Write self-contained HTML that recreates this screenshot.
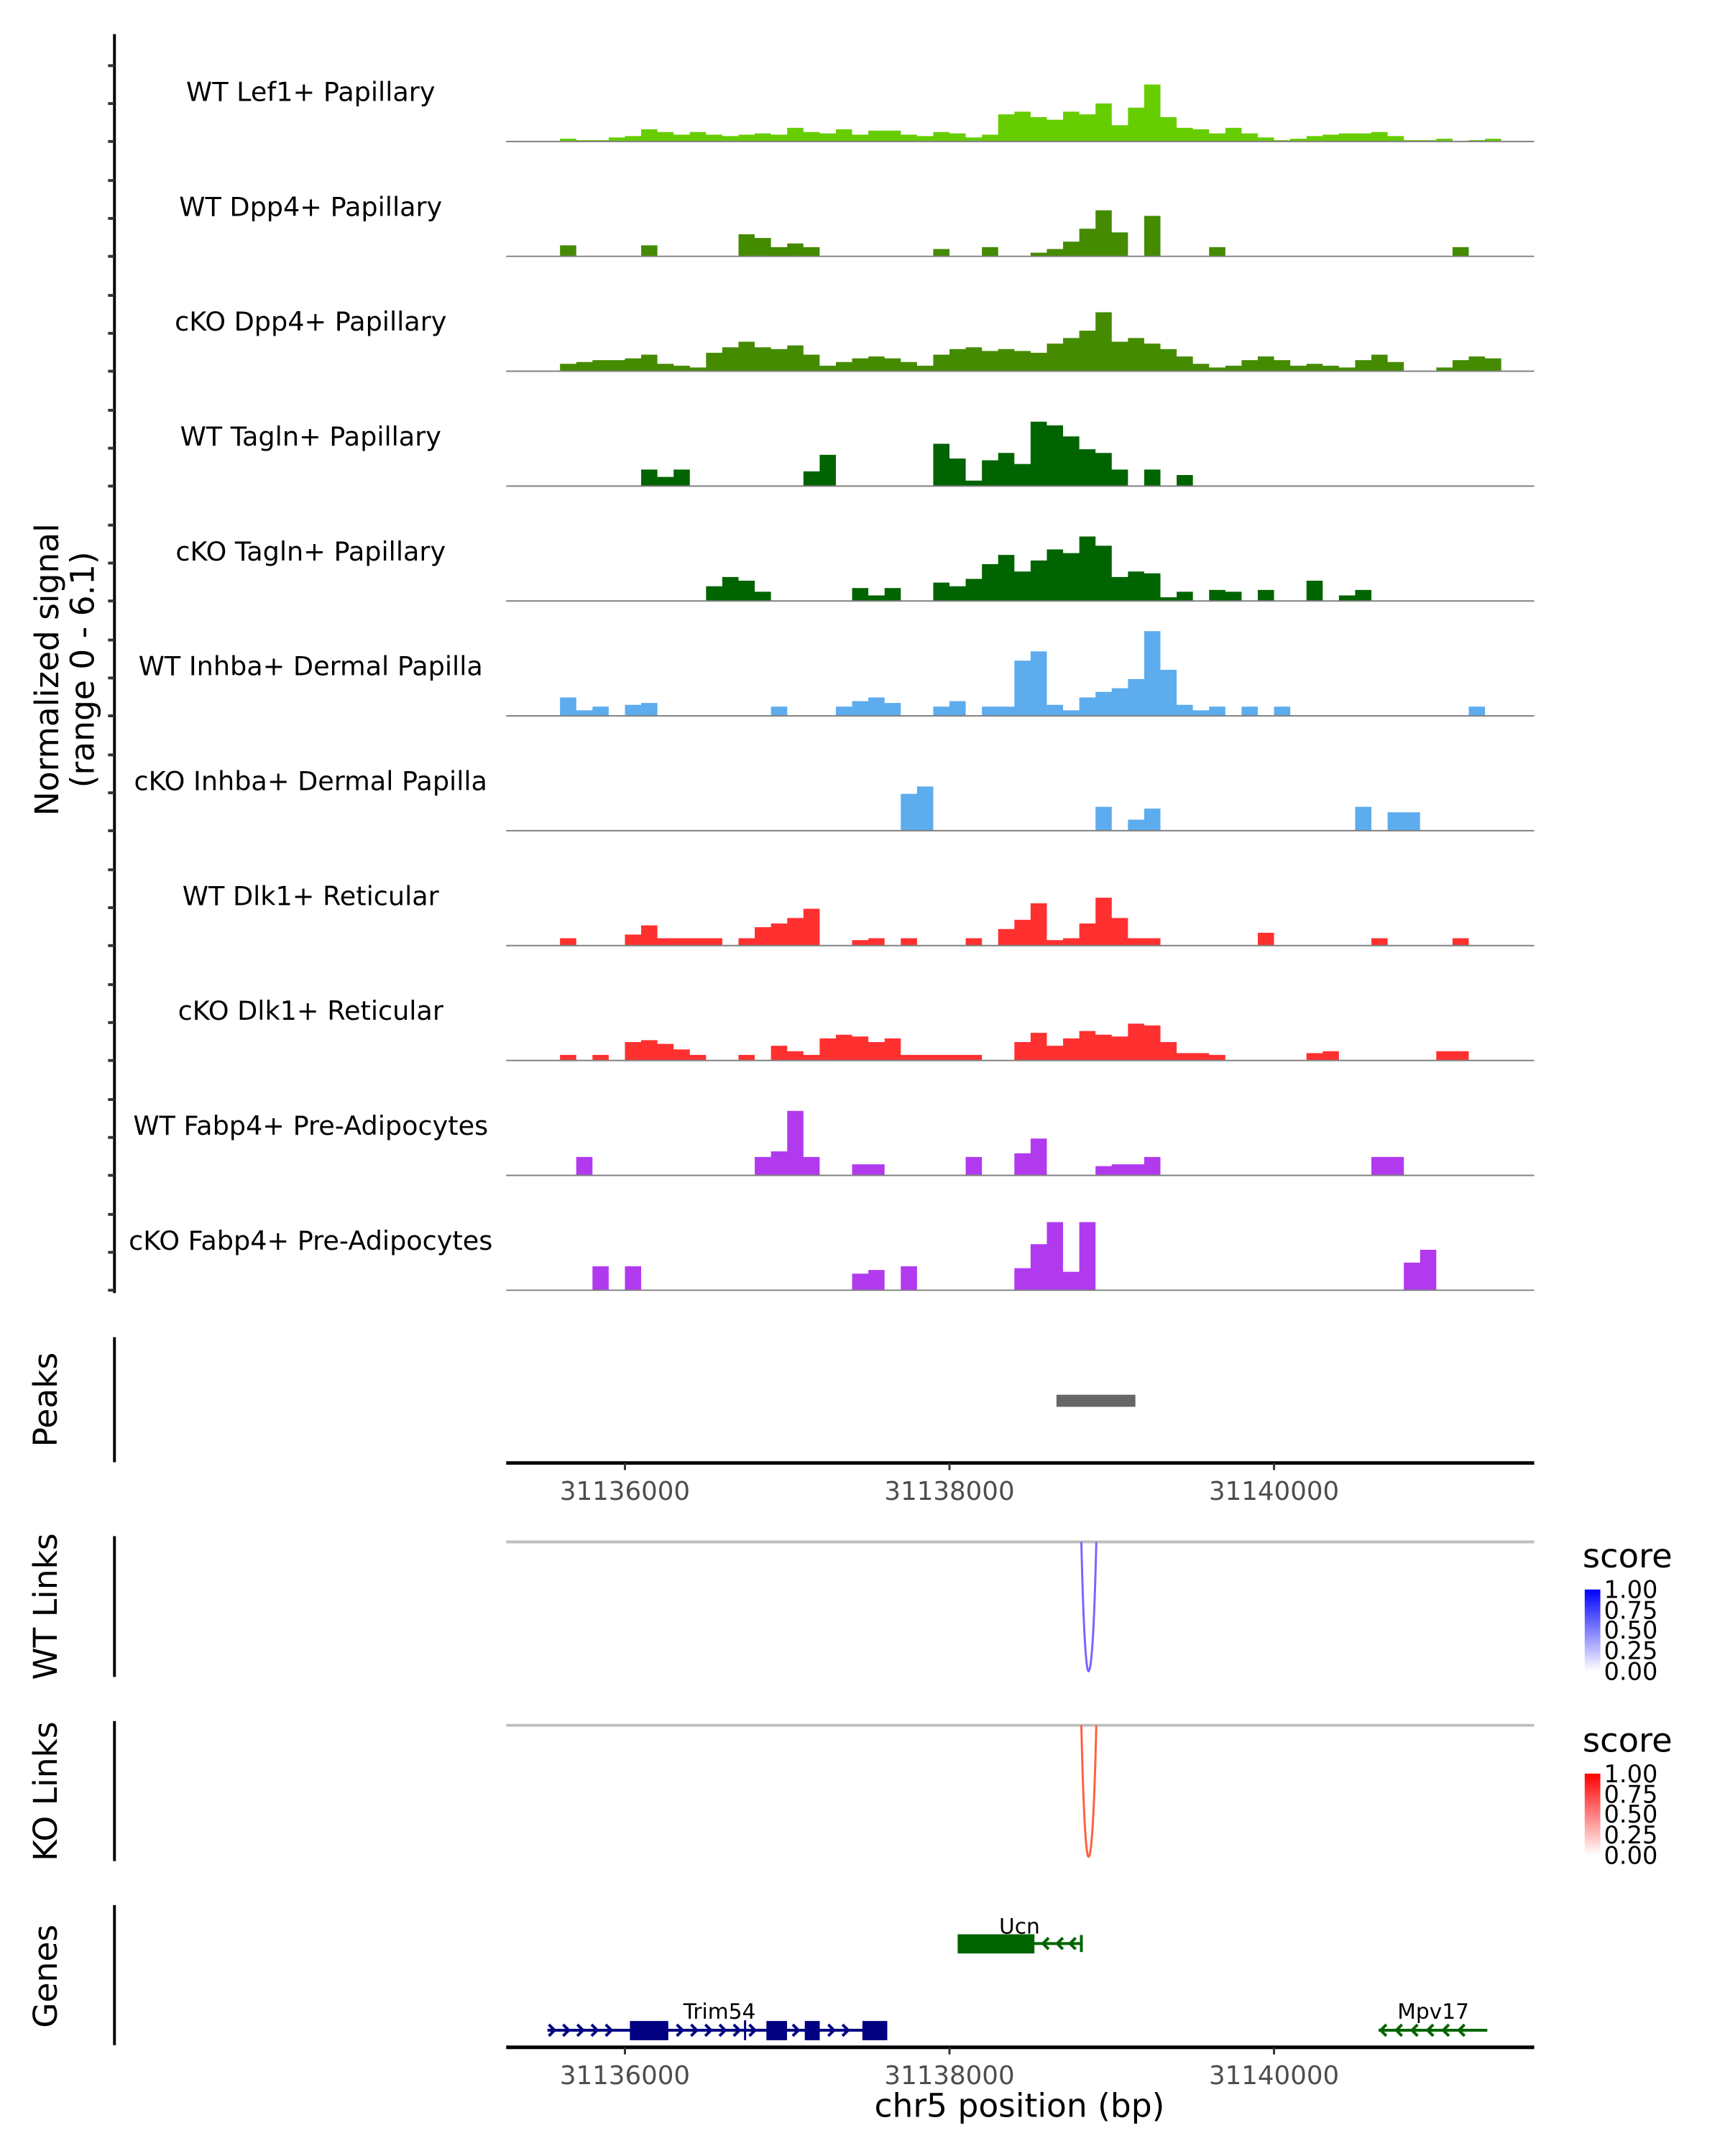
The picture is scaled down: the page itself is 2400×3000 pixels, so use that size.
<!DOCTYPE html>
<html><head><meta charset="utf-8"><style>
html,body{margin:0;padding:0;background:#fff}
svg{display:block;font-family:"DejaVu Sans","Liberation Sans",sans-serif}
</style></head><body>
<svg id="chart" width="2400" height="3000" viewBox="0 0 2400 3000" xmlns="http://www.w3.org/2000/svg">
<defs>
<linearGradient id="gBlue" x1="0" y1="1" x2="0" y2="0"><stop offset="0" stop-color="#ffffff"/><stop offset="1" stop-color="#0000ff"/></linearGradient>
<linearGradient id="gRed" x1="0" y1="1" x2="0" y2="0"><stop offset="0" stop-color="#ffffff"/><stop offset="1" stop-color="#ff0000"/></linearGradient>
</defs>
<g transform="scale(0.98915)">
<g id="tracks"></g>
<line x1="161" y1="48" x2="161" y2="1819" stroke="#000" stroke-width="4"/>
<g id="yticks"></g>
<text transform="translate(82,942) rotate(-90)" text-anchor="middle" font-size="46">Normalized signal</text>
<text transform="translate(132,942) rotate(-90)" text-anchor="middle" font-size="46">(range 0 - 6.1)</text>

<line x1="161" y1="1881" x2="161" y2="2057" stroke="#000" stroke-width="4"/>
<text transform="translate(80,1969) rotate(-90)" text-anchor="middle" font-size="46">Peaks</text>
<rect x="1486" y="1962" width="111" height="17" fill="#666"/>
<g id="xaxis1"></g>

<line x1="161" y1="2161" x2="161" y2="2359" stroke="#000" stroke-width="4"/>
<text transform="translate(80,2260) rotate(-90)" text-anchor="middle" font-size="46">WT Links</text>
<line x1="712" y1="2169" x2="2158" y2="2169" stroke="#bebebe" stroke-width="4"/>
<path d="M1521,2169 C1524,2300 1528,2351 1531,2351 C1535,2351 1539,2300 1542,2169" fill="none" stroke="#8060ff" stroke-width="3"/>
<text x="2226" y="2205" font-size="47">score</text>
<rect x="2229" y="2236" width="22" height="115" fill="url(#gBlue)"/>
<g font-size="34">
<text x="2256" y="2248">1.00</text><text x="2256" y="2277">0.75</text><text x="2256" y="2305">0.50</text><text x="2256" y="2334">0.25</text><text x="2256" y="2363">0.00</text></g>

<line x1="161" y1="2421" x2="161" y2="2618" stroke="#000" stroke-width="4"/>
<text transform="translate(80,2520) rotate(-90)" text-anchor="middle" font-size="46">KO Links</text>
<line x1="712" y1="2427" x2="2158" y2="2427" stroke="#bebebe" stroke-width="4"/>
<path d="M1521,2427 C1524,2560 1528,2612 1531,2612 C1535,2612 1539,2560 1542,2427" fill="none" stroke="#ff6040" stroke-width="3"/>
<text x="2226" y="2464" font-size="47">score</text>
<rect x="2229" y="2495" width="22" height="115" fill="url(#gRed)"/>
<g font-size="34">
<text x="2256" y="2507">1.00</text><text x="2256" y="2536">0.75</text><text x="2256" y="2564">0.50</text><text x="2256" y="2593">0.25</text><text x="2256" y="2622">0.00</text></g>

<line x1="161" y1="2680" x2="161" y2="2877" stroke="#000" stroke-width="4"/>
<text transform="translate(80,2780) rotate(-90)" text-anchor="middle" font-size="46">Genes</text>
<g>
<line x1="1347" y1="2734" x2="1521" y2="2734" stroke="#006400" stroke-width="4"/>
<rect x="1347" y="2721" width="108" height="27" fill="#006400"/>
<line x1="1521" y1="2722" x2="1521" y2="2746" stroke="#006400" stroke-width="4"/>
<path d="M1475,2726 l-8,8 l8,8 M1495,2726 l-8,8 l8,8 M1513,2726 l-8,8 l8,8" fill="none" stroke="#006400" stroke-width="4"/>
<text x="1434" y="2720" font-size="30" text-anchor="middle">Ucn</text></g>
<g>
<line x1="770" y1="2856" x2="1248" y2="2856" stroke="#000080" stroke-width="4"/>
<rect x="886" y="2843" width="54" height="27" fill="#000080"/><rect x="1078" y="2843" width="29" height="27" fill="#000080"/><rect x="1132" y="2843" width="21" height="27" fill="#000080"/><rect x="1213" y="2843" width="35" height="27" fill="#000080"/>
<path d="M772,2848 l8,8 l-8,8 M792,2848 l8,8 l-8,8 M812,2848 l8,8 l-8,8 M832,2848 l8,8 l-8,8 M852,2848 l8,8 l-8,8 M952,2848 l8,8 l-8,8 M972,2848 l8,8 l-8,8 M992,2848 l8,8 l-8,8 M1012,2848 l8,8 l-8,8 M1032,2848 l8,8 l-8,8 M1054,2848 l8,8 l-8,8 M1115,2848 l8,8 l-8,8 M1165,2848 l8,8 l-8,8 M1185,2848 l8,8 l-8,8" fill="none" stroke="#000080" stroke-width="4"/>
<line x1="1048" y1="2842" x2="1048" y2="2870" stroke="#000080" stroke-width="3"/>
<text x="1012" y="2840" font-size="30" text-anchor="middle">Trim54</text></g>
<g>
<line x1="1939" y1="2856" x2="2092" y2="2856" stroke="#006400" stroke-width="4"/>
<path d="M1950,2848 l-8,8 l8,8 M1972,2848 l-8,8 l8,8 M1994,2848 l-8,8 l8,8 M2016,2848 l-8,8 l8,8 M2038,2848 l-8,8 l8,8 M2060,2848 l-8,8 l8,8" fill="none" stroke="#006400" stroke-width="4"/>
<text x="2016" y="2840" font-size="30" text-anchor="middle">Mpv17</text></g>
<g id="xaxis2"></g>
<text x="1434" y="2978" text-anchor="middle" font-size="46">chr5 position (bp)</text>
</g>
</svg>
<script>
const trackLabels=["WT Lef1+ Papillary","WT Dpp4+ Papillary","cKO Dpp4+ Papillary","WT Tagln+ Papillary","cKO Tagln+ Papillary","WT Inhba+ Dermal Papilla","cKO Inhba+ Dermal Papilla","WT Dlk1+ Reticular","cKO Dlk1+ Reticular","WT Fabp4+ Pre-Adipocytes","cKO Fabp4+ Pre-Adipocytes"];
const trackColors=["#66cd00","#458b00","#458b00","#006400","#006400","#5cacee","#5cacee","#ff3030","#ff3030","#b23aee","#b23aee"];
const binStart=31135400, binSize=100;
const xTicks=[31136000,31138000,31140000];
const yMax=6.1;
const lef1WT=[0,0,0.15,0.07,0.07,0.22,0.29,0.66,0.51,0.37,0.51,0.37,0.29,0.37,0.44,0.37,0.74,0.51,0.44,0.66,0.37,0.59,0.59,0.37,0.29,0.51,0.44,0.22,0.37,1.47,1.62,1.32,1.18,1.62,1.47,2.06,0.88,1.84,3.09,1.32,0.74,0.66,0.44,0.74,0.44,0.22,0.07,0.15,0.29,0.37,0.44,0.44,0.51,0.29,0.07,0.07,0.15,0,0.07,0.15];
const dpp4WT=[0,0,0.6,0,0,0,0,0.6,0,0,0,0,0,1.2,1.0,0.5,0.7,0.5,0,0,0,0,0,0,0,0.4,0,0,0.5,0,0,0.2,0.4,0.8,1.5,2.5,1.3,0,2.2,0,0,0,0.5,0,0,0,0,0,0,0,0,0,0,0,0,0,0,0.5,0,0];
const dpp4KO=[0,0,0.4,0.5,0.6,0.6,0.7,0.9,0.4,0.3,0.2,1.0,1.3,1.6,1.3,1.2,1.4,0.9,0.3,0.5,0.7,0.8,0.7,0.5,0.3,0.9,1.2,1.3,1.1,1.2,1.1,1.0,1.5,1.8,2.2,3.2,1.6,1.8,1.5,1.2,0.8,0.4,0.2,0.3,0.6,0.8,0.6,0.3,0.4,0.3,0.2,0.6,0.9,0.5,0,0,0.2,0.6,0.8,0.7];
const taglnWT=[0,0,0,0,0,0,0,0.9,0.5,0.9,0,0,0,0,0,0,0,0.8,1.7,0,0,0,0,0,0,2.3,1.5,0.3,1.4,1.8,1.2,3.5,3.3,2.7,2.0,1.8,0.9,0,0.9,0,0.6,0,0,0,0,0,0,0,0,0,0,0,0,0,0,0,0,0,0,0];
const taglnKO=[0,0,0,0,0,0,0,0,0,0,0,0.8,1.3,1.1,0.5,0,0,0,0,0,0.7,0.3,0.7,0,0,1.0,0.8,1.2,2.0,2.5,1.6,2.2,2.8,2.6,3.5,3.0,1.3,1.6,1.5,0.2,0.5,0,0.6,0.5,0,0.6,0,0,1.1,0,0.3,0.6,0,0,0,0,0,0,0,0];
const inhbaWT=[0,0,1.0,0.3,0.5,0,0.6,0.7,0,0,0,0,0,0,0,0.5,0,0,0,0.5,0.8,1.0,0.7,0,0,0.5,0.8,0,0.5,0.5,3.0,3.5,0.6,0.3,1.0,1.3,1.5,2.0,4.6,2.5,0.6,0.3,0.5,0,0.5,0,0.5,0,0,0,0,0,0,0,0,0,0,0,0.5,0];
const inhbaKO=[0,0,0,0,0,0,0,0,0,0,0,0,0,0,0,0,0,0,0,0,0,0,0,2.0,2.4,0,0,0,0,0,0,0,0,0,0,1.3,0,0.6,1.2,0,0,0,0,0,0,0,0,0,0,0,0,1.3,0,1.0,1.0,0,0,0,0,0];
const dlk1WT=[0,0,0.4,0,0,0,0.6,1.1,0.4,0.4,0.4,0.4,0,0.4,1.0,1.2,1.5,2.0,0,0,0.3,0.4,0,0.4,0,0,0,0.4,0,0.9,1.4,2.3,0.3,0.4,1.2,2.6,1.5,0.4,0.4,0,0,0,0,0,0,0.7,0,0,0,0,0,0,0.4,0,0,0,0,0.4,0,0];
const dlk1KO=[0,0,0.3,0,0.3,0,1.0,1.1,0.9,0.6,0.3,0,0,0.3,0,0.8,0.5,0.3,1.2,1.4,1.3,1.0,1.2,0.3,0.3,0.3,0.3,0.3,0,0,1.0,1.5,0.8,1.2,1.6,1.4,1.3,2.0,1.9,1.0,0.4,0.4,0.3,0,0,0,0,0,0.4,0.5,0,0,0,0,0,0,0.5,0.5,0,0];
const fabp4WT=[0,0,0,1.0,0,0,0,0,0,0,0,0,0,0,1.0,1.3,3.5,1.0,0,0,0.6,0.6,0,0,0,0,0,1.0,0,0,1.2,2.0,0,0,0,0.5,0.6,0.6,1.0,0,0,0,0,0,0,0,0,0,0,0,0,0,1.0,1.0,0,0,0,0,0,0];
const fabp4KO=[0,0,0,0,1.3,0,1.3,0,0,0,0,0,0,0,0,0,0,0,0,0,0.9,1.1,0,1.3,0,0,0,0,0,0,1.2,2.5,3.7,1.0,3.7,0,0,0,0,0,0,0,0,0,0,0,0,0,0,0,0,0,0,0,1.5,2.2,0,0,0,0];
const series=[lef1WT,dpp4WT,dpp4KO,taglnWT,taglnKO,inhbaWT,inhbaKO,dlk1WT,dlk1KO,fabp4WT,fabp4KO];

const NS="http://www.w3.org/2000/svg";
const plotL=712, plotR=2158;
function xScale(bp){return 879+(bp-31136000)*456.5/2000;}
const firstBase=199, trackStep=161.6, trackH=158;
function yScale(v,k){const base=firstBase+k*trackStep;return base-v/yMax*trackH;}
function mk(tag,attrs,parent){const e=document.createElementNS(NS,tag);for(const a in attrs)e.setAttribute(a,attrs[a]);parent.appendChild(e);return e;}

const tg=document.getElementById('tracks');
series.forEach((vals,k)=>{
  const g=mk('g',{},tg);
  
  
  const base=yScale(0,k);
  let d='M'+xScale(binStart)+','+base;
  vals.forEach((v,i)=>{const x0=xScale(binStart+i*binSize),x1=xScale(binStart+(i+1)*binSize),y=yScale(v,k);d+=' L'+x0+','+y+' L'+x1+','+y;});
  d+=' L'+xScale(binStart+vals.length*binSize)+','+base+' Z';
  const p=mk('path',{d:d,fill:trackColors[k]},g);
  
  
  const bl=mk('line',{x1:plotL,x2:plotR,y1:base,y2:base,stroke:'#808080','stroke-width':2},g);
  
  
  const t=mk('text',{x:437,y:base-57,'font-size':37,'text-anchor':'middle'},g);
  t.textContent=trackLabels[k];
  
  
});
const yt=document.getElementById('yticks');
for(let k=0;k<series.length;k++){
  const base=firstBase+k*trackStep;
  [0,0.33,0.66].forEach(f=>{
    const y=base-f*trackStep;
    const l=mk('line',{x1:152,x2:161,y1:y,y2:y,stroke:'#333','stroke-width':4},yt);
    
    
  });
}
function xAxis(id,y){
  const g=document.getElementById(id);
  mk('line',{x1:plotL,x2:plotR,y1:y,y2:y,stroke:'#000','stroke-width':5},g);
  xTicks.forEach(t=>{
    const x=xScale(t);
    const l=mk('line',{x1:x,x2:x,y1:y,y2:y+10,stroke:'#333','stroke-width':3},g);
    
    
    const tx=mk('text',{x:x,y:y+52,'font-size':36,'text-anchor':'middle',fill:'#4d4d4d'},g);
    tx.textContent=t;
    
    
  });
}
xAxis('xaxis1',2058);
xAxis('xaxis2',2880);
</script>
</body></html>
